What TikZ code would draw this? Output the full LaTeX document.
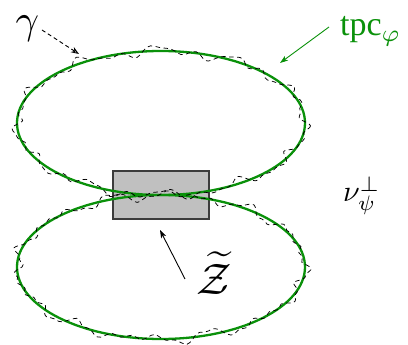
\documentclass[tikz,border=0pt]{standalone}
\usepackage{fontspec}
\setmainfont{Liberation Serif}
\usetikzlibrary{arrows.meta}
\definecolor{tgreen}{RGB}{10,145,10}
\definecolor{boxgray}{RGB}{192,192,192}
\definecolor{boxedge}{RGB}{60,60,60}
\tikzset{
  curve/.style={tgreen, line width=2.3pt},
  wiggle/.style={black, line width=0.75pt, dash pattern=on 4.5pt off 3.5pt},
  zbox/.style={draw=boxedge, fill=boxgray, line width=1.2pt, minimum width=96pt, minimum height=48pt, inner sep=0pt},
  lbl/.style={inner sep=0pt},
  ptr/.style={line width=0.9pt, -{Stealth[length=8pt,width=5.5pt,inset=2pt]}},
  optr/.style={line width=0.9pt, dash pattern=on 4pt off 3pt, -{Stealth[open,length=8pt,width=6pt,inset=2.5pt]}}
}
\begin{document}
\begin{tikzpicture}[x=1pt,y=-1pt]
\useasboundingbox (0,0) rectangle (408,345);
% box
\node[zbox] (zb) at (161,195) {};
% green ellipses
\draw[curve] (161,123) ellipse [x radius=144, y radius=72];
\draw[curve] (161,267) ellipse [x radius=144, y radius=72];
% wiggly dashed curve gamma
\draw[wiggle] plot[smooth cycle, variable=\t, samples=180, domain=0:358]
  ({161+(144+3.2*sin(11*\t)+2.6*sin(23*\t+50)+1.8*sin(37*\t+20))*cos(\t)},
   {123+(72+3.2*sin(11*\t)+2.6*sin(23*\t+50)+1.8*sin(37*\t+20))*sin(\t)});
\draw[wiggle] plot[smooth cycle, variable=\t, samples=180, domain=0:358]
  ({161+(144+3.0*sin(13*\t+80)+2.6*sin(19*\t+10)+1.9*sin(41*\t+60))*cos(\t)},
   {267+(72+3.0*sin(13*\t+80)+2.6*sin(19*\t+10)+1.9*sin(41*\t+60))*sin(\t)});
% labels
\node[lbl] (gam) at (27.5,28.5) {\scalebox{4.1}{$\gamma$}};
\node[lbl, anchor=base west, text=tgreen] (tpc) at (340,36) {\scalebox{3.4}{tpc$_{\varphi}$}};
\node[lbl, anchor=base west] (nu) at (343,202) {\scalebox{3.0}{$\nu_{\psi}^{\perp}$}};
\node[lbl] (zt) at (214,273) {\scalebox{4.4}{$\widetilde{\mathcal{Z}}$}};
% arrow targets
\coordinate (gamT) at (79,54);
\coordinate (tpcT) at (280,63);
\coordinate (zT) at (160,230);
\coordinate (gamS) at (42,30);
\coordinate (tpcS) at (329,27);
\coordinate (zS) at (185,279);
\draw[optr] (gamS) -- (gamT);
\draw[ptr, tgreen] (tpcS) -- (tpcT);
\draw[ptr] (zS) -- (zT);
\end{tikzpicture}
\end{document}
